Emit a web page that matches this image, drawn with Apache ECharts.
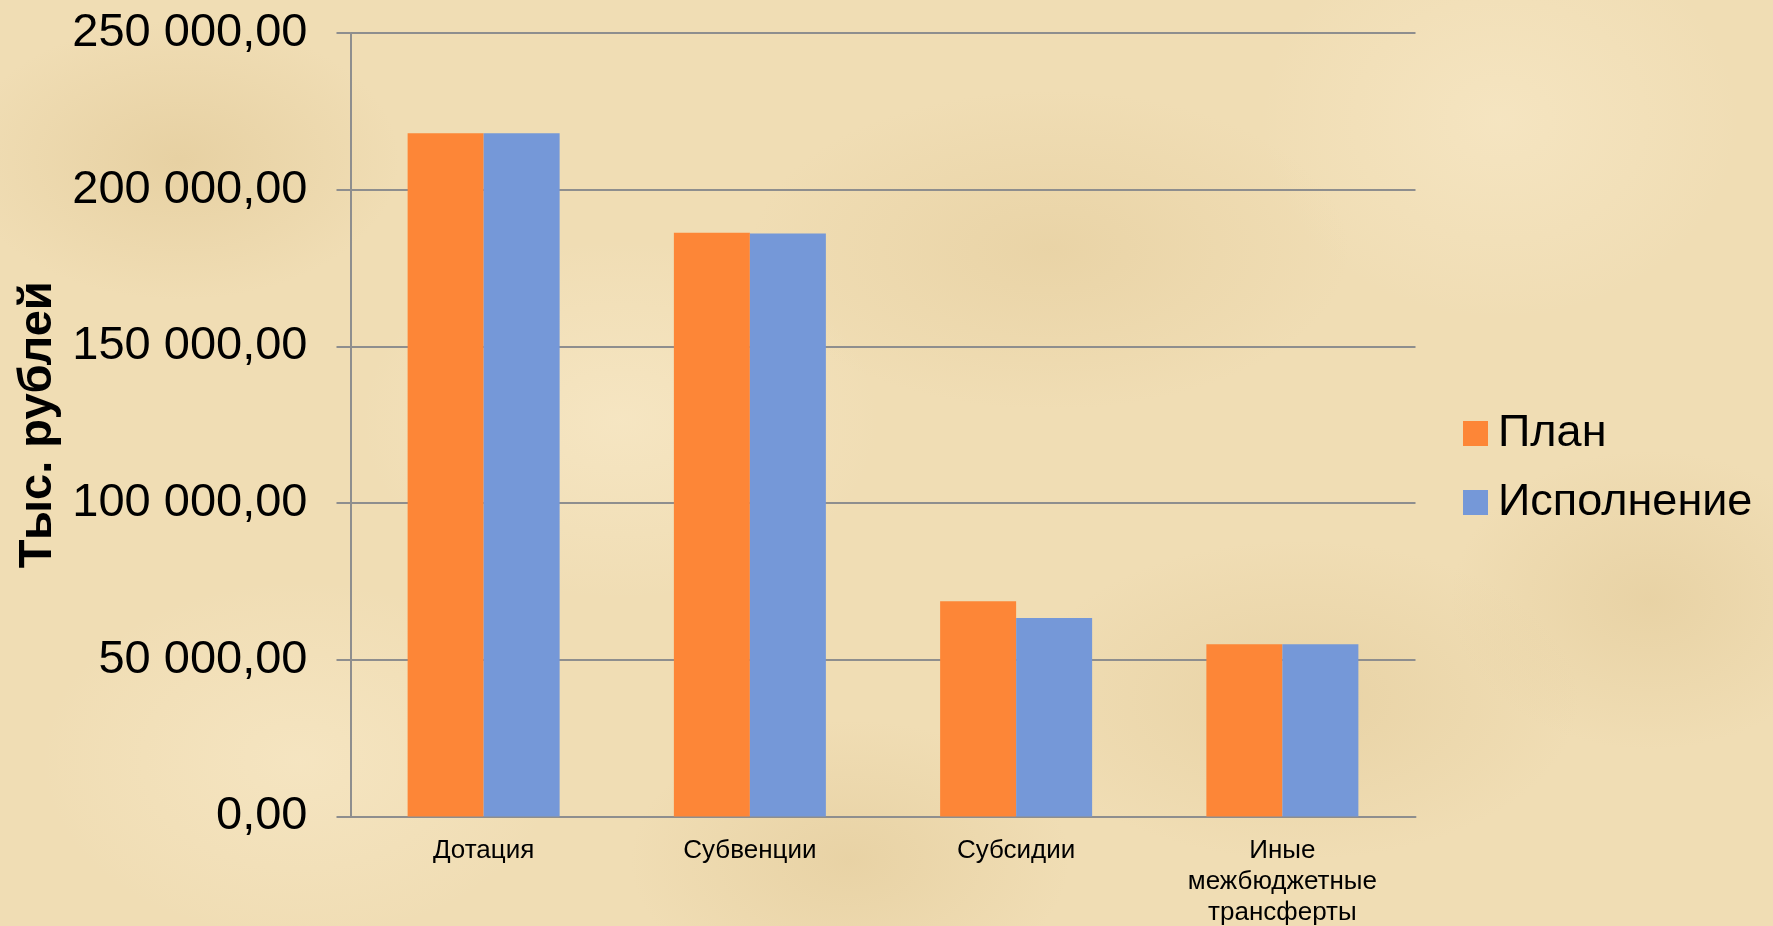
<!DOCTYPE html>
<html>
<head>
    <meta charset="utf-8">
    <title>План и исполнение</title>
    <script src="https://cdn.jsdelivr.net/npm/echarts/dist/echarts.min.js"></script>
    <style>
        html, body { margin: 0; padding: 0; }
        body {
            width: 1773px; height: 926px; overflow: hidden;
            background-color: #f0ddb4;
            background-image:
                radial-gradient(ellipse 220px 140px at 180px 160px, rgba(214,186,130,0.35), rgba(214,186,130,0)),
                radial-gradient(ellipse 260px 180px at 620px 420px, rgba(250,236,205,0.55), rgba(250,236,205,0)),
                radial-gradient(ellipse 300px 160px at 1050px 250px, rgba(218,190,135,0.30), rgba(218,190,135,0)),
                radial-gradient(ellipse 240px 200px at 1500px 120px, rgba(250,236,205,0.5), rgba(250,236,205,0)),
                radial-gradient(ellipse 280px 160px at 1300px 700px, rgba(214,186,130,0.30), rgba(214,186,130,0)),
                radial-gradient(ellipse 260px 180px at 300px 760px, rgba(250,236,205,0.5), rgba(250,236,205,0)),
                radial-gradient(ellipse 200px 150px at 1650px 600px, rgba(214,186,130,0.3), rgba(214,186,130,0)),
                radial-gradient(ellipse 220px 140px at 850px 860px, rgba(214,186,130,0.3), rgba(214,186,130,0));
        }
    </style>
</head>
<body>
    <div id="main" style="width: 1773px;height:926px;"></div>
    <script type="text/javascript">
        var categories = ['Дотация', 'Субвенции', 'Субсидии', 'Иные межбюджетные трансферты'];
        var planValues = [218000, 186300, 68700, 55000];
        var factValues = [218000, 186000, 63300, 55000];
        var seriesNames = ['План', 'Исполнение'];
        var yTicks = { min: 0, max: 250000, step: 50000 };

        function fmt(v) {
            var s = String(Math.round(v));
            s = s.replace(/\B(?=(\d{3})+(?!\d))/g, ' ');
            return s + ',00';
        }

        var myChart = echarts.init(document.getElementById('main'));
        var gridColor = '#8e8e8e';
        var font = 'Liberation Sans, Arial, sans-serif';

        var option = {
            backgroundColor: 'transparent',
            animation: false,
            grid: { left: 350.5, right: 357.5, top: 33, bottom: 109.5, outerBoundsMode: 'none' },
            legend: {
                orient: 'vertical',
                left: 1458,
                top: 406,
                itemWidth: 25,
                itemHeight: 25,
                itemGap: 24,
                icon: 'rect',
                textStyle: { fontFamily: font, fontSize: 45, color: '#000', lineHeight: 45, padding: [0, 0, 0, 5] },
                data: seriesNames
            },
            xAxis: {
                type: 'category',
                data: categories,
                axisLine: { lineStyle: { color: gridColor, width: 2 } },
                axisTick: { length: 8, lineStyle: { color: gridColor, width: 2 } },
                axisLabel: {
                    margin: 19,
                    fontFamily: font,
                    fontSize: 26,
                    lineHeight: 31,
                    color: '#000',
                    interval: 0,
                    formatter: function (v) {
                        return v === 'Иные межбюджетные трансферты' ? 'Иные\nмежбюджетные\nтрансферты' : v;
                    }
                }
            },
            yAxis: {
                type: 'value',
                min: yTicks.min,
                max: yTicks.max,
                interval: yTicks.step,
                name: 'Тыс. рублей',
                nameLocation: 'middle',
                nameRotate: 90,
                nameGap: 289,
                nameTextStyle: { fontFamily: font, fontSize: 47, fontWeight: 'bold', color: '#000' },
                axisLine: { show: true, lineStyle: { color: gridColor, width: 2 } },
                axisTick: { show: true, length: 14, lineStyle: { color: gridColor, width: 2 } },
                splitLine: { lineStyle: { color: gridColor, width: 2 } },
                axisLabel: {
                    margin: 43,
                    fontFamily: font,
                    fontSize: 47,
                    color: '#000',
                    formatter: fmt
                }
            },
            series: [{
                name: seriesNames[0],
                type: 'bar',
                data: planValues,
                barWidth: 76,
                barGap: '0%',
                itemStyle: { color: '#fd8637' }
            }, {
                name: seriesNames[1],
                type: 'bar',
                data: factValues,
                barWidth: 76,
                barGap: '0%',
                itemStyle: { color: '#7598d8' }
            }]
        };

        myChart.setOption(option);
    </script>
</body>
</html>
